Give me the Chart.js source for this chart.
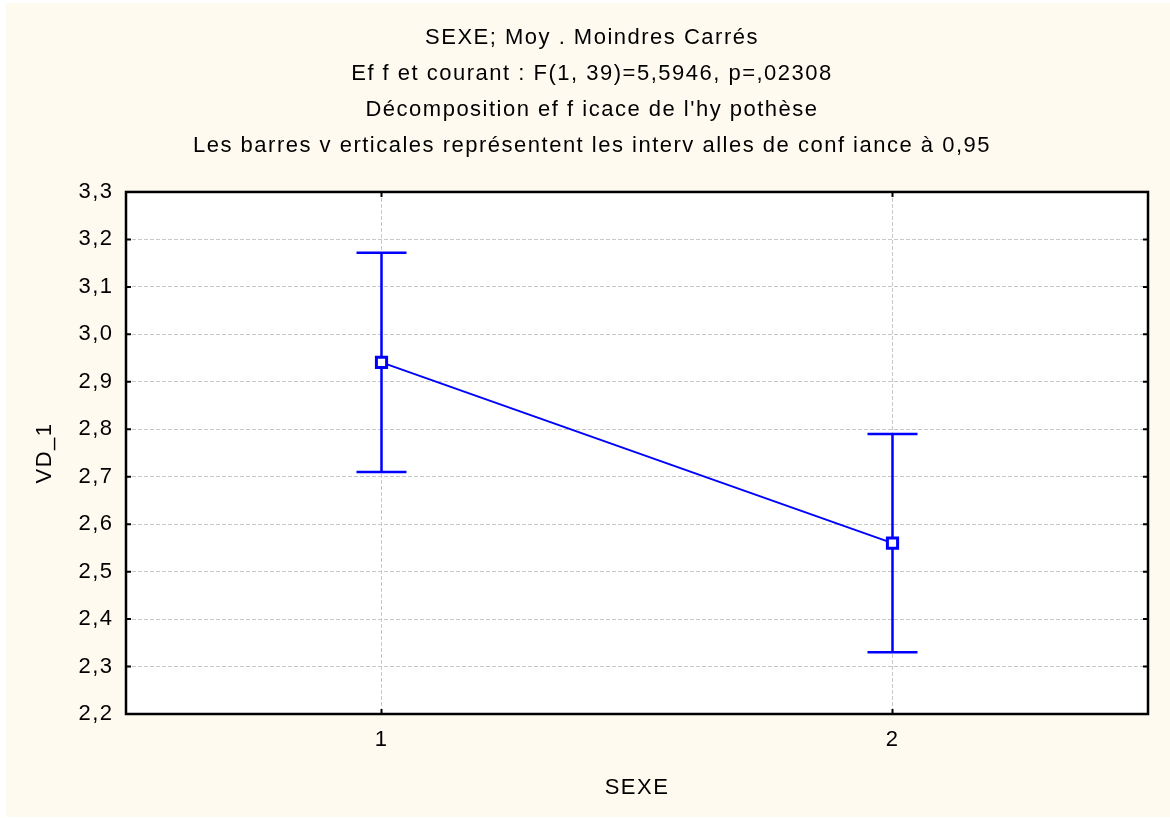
<!DOCTYPE html>
<html>
<head>
<meta charset="utf-8">
<script src="https://cdn.jsdelivr.net/npm/chart.js@4.4.1/dist/chart.umd.min.js"></script>
<style>
  html, body { margin: 0; padding: 0; background: #ffffff; }
  canvas { display: block; }
</style>
</head>
<body>
<canvas id="c" width="1170" height="818"></canvas>
<script>
// ---- data ----
const titleLines = [
  "SEXE; Moy . Moindres Carrés",
  "Ef f et courant : F(1, 39)=5,5946, p=,02308",
  "Décomposition ef f icace de l'hy pothèse",
  "Les barres v erticales représentent les interv alles de conf iance à 0,95"
];
const xCategories = [1, 2];
const xLabels = ["1", "2"];
const means = [2.941, 2.560];
const ciLower = [2.710, 2.330];
const ciUpper = [3.172, 2.790];
const yTicks = [2.2, 2.3, 2.4, 2.5, 2.6, 2.7, 2.8, 2.9, 3.0, 3.1, 3.2, 3.3];
const xAxisTitle = "SEXE";
const yAxisTitle = "VD_1";

const BLUE = '#0000ff';
const CREAM = '#fffaf0';
const LS = '1.5px';

Chart.defaults.font.family = "'Liberation Sans', Arial, Helvetica, sans-serif";
Chart.defaults.font.size = 22;
Chart.defaults.color = '#000000';

const spacingPlugin = {
  id: 'spacing',
  beforeUpdate(chart) { chart.ctx.letterSpacing = LS; },
  beforeLayout(chart) { chart.ctx.letterSpacing = LS; },
  beforeDraw(chart) { chart.ctx.letterSpacing = LS; },
  resize(chart) { chart.ctx.letterSpacing = LS; }
};

const bgPlugin = {
  id: 'bg',
  beforeDraw(chart) {
    const {ctx, chartArea: a, width, height} = chart;
    ctx.save();
    ctx.fillStyle = '#ffffff';
    ctx.fillRect(0, 0, width, height);
    ctx.fillStyle = CREAM;
    ctx.fillRect(6, 3, width - 6, height - 4);
    ctx.fillStyle = '#ffffff';
    ctx.fillRect(a.left, a.top, a.right - a.left, a.bottom - a.top);
    ctx.restore();
  }
};

const framePlugin = {
  id: 'frame',
  beforeDatasetsDraw(chart) {
    const {ctx, chartArea: a, scales} = chart;
    const xs = scales.x, ys = scales.y;
    ctx.save();
    // error bars (confidence intervals)
    ctx.strokeStyle = BLUE;
    ctx.lineWidth = 2.5;
    ctx.lineCap = 'butt';
    for (let i = 0; i < xCategories.length; i++) {
      const px = xs.getPixelForValue(xCategories[i]);
      const pLo = ys.getPixelForValue(ciLower[i]);
      const pHi = ys.getPixelForValue(ciUpper[i]);
      ctx.beginPath();
      ctx.moveTo(px, pLo); ctx.lineTo(px, pHi);
      ctx.moveTo(px - 25, pHi); ctx.lineTo(px + 25, pHi);
      ctx.moveTo(px - 25, pLo); ctx.lineTo(px + 25, pLo);
      ctx.stroke();
    }
    // inward ticks
    ctx.strokeStyle = '#000000';
    ctx.lineWidth = 2;
    ctx.beginPath();
    ys.ticks.forEach(t => {
      const py = ys.getPixelForValue(t.value);
      ctx.moveTo(a.left, py); ctx.lineTo(a.left + 5, py);
      ctx.moveTo(a.right, py); ctx.lineTo(a.right - 5, py);
    });
    xs.ticks.forEach(t => {
      const px = xs.getPixelForValue(t.value);
      ctx.moveTo(px, a.bottom); ctx.lineTo(px, a.bottom - 5);
      ctx.moveTo(px, a.top); ctx.lineTo(px, a.top + 5);
    });
    ctx.stroke();
    // frame
    ctx.lineWidth = 2.5;
    ctx.strokeRect(a.left, a.top, a.right - a.left, a.bottom - a.top);
    ctx.restore();
  }
};

new Chart(document.getElementById('c'), {
  type: 'line',
  data: {
    datasets: [{
      data: xCategories.map((x, i) => ({x: x, y: means[i]})),
      borderColor: BLUE,
      borderWidth: 2,
      pointStyle: 'rect',
      pointRadius: 7.2,
      pointBorderWidth: 3,
      pointBackgroundColor: '#ffffff',
      pointBorderColor: BLUE,
      tension: 0,
      clip: false
    }]
  },
  options: {
    responsive: false,
    animation: false,
    devicePixelRatio: 1,
    layout: { padding: { left: 36, right: 22, top: 0, bottom: 0 } },
    plugins: {
      legend: { display: false },
      tooltip: { enabled: false },
      title: {
        display: true,
        text: titleLines,
        font: { size: 22, weight: 'normal', lineHeight: 1.636 },
        color: '#000000',
        padding: { top: 20, bottom: 28 }
      }
    },
    scales: {
      x: {
        type: 'linear',
        min: 0.5,
        max: 2.5,
        afterBuildTicks(scale) { scale.ticks = xCategories.map(v => ({value: v})); },
        afterFit(scale) { scale.height = 104; },
        ticks: {
          padding: 13,
          callback(v) { const i = xCategories.indexOf(v); return i >= 0 ? xLabels[i] : ''; }
        },
        grid: { color: '#c8c8c8', lineWidth: 1, drawTicks: false },
        border: { display: false, dash: [4, 2] },
        title: { display: true, text: xAxisTitle, font: { size: 22 }, padding: { top: 0, bottom: 17 } }
      },
      y: {
        type: 'linear',
        min: 2.2,
        max: 3.3,
        afterBuildTicks(scale) { scale.ticks = yTicks.map(v => ({value: v})); },
        afterFit(scale) { scale.width = 90; },
        ticks: {
          padding: 12.5,
          callback(v) { return v.toFixed(1).replace('.', ','); }
        },
        grid: { color: '#c8c8c8', lineWidth: 1, drawTicks: false },
        border: { display: false, dash: [4, 2] },
        title: { display: true, text: yAxisTitle, font: { size: 22 }, padding: { top: -4.2, bottom: 0 } }
      }
    }
  },
  plugins: [spacingPlugin, bgPlugin, framePlugin]
});
</script>
</body>
</html>
